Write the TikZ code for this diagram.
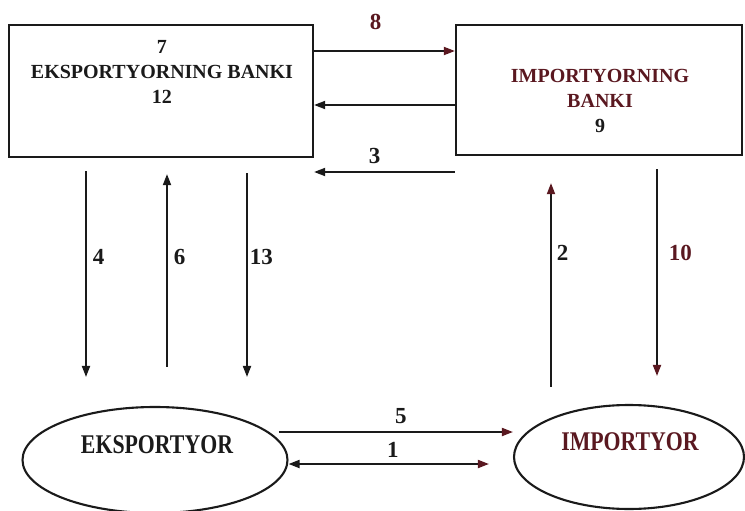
\documentclass[tikz,border=0pt]{standalone}
\usepackage{fontspec}
\setmainfont{Liberation Serif}
\usepackage{tikz}
\usetikzlibrary{arrows.meta,positioning,shapes.geometric}
\definecolor{bankInk}{HTML}{1A1A1A}
\definecolor{importRed}{HTML}{5A1820}
\tikzset{
  bankbox/.style={rectangle, draw=bankInk, line width=2.2pt, inner sep=0pt},
  party/.style={ellipse, draw=bankInk, line width=2.1pt, inner sep=0pt},
  boxtext/.style={align=center, text=bankInk, font=\fontsize{20}{25}\selectfont\bfseries},
  partytext/.style={text=bankInk, font=\fontsize{22.5}{26}\selectfont\bfseries},
  num/.style={text=bankInk, inner sep=1pt, font=\fontsize{23}{26}\selectfont\bfseries},
  arrow/.style={-{Triangle[length=11pt,width=8pt]}, line width=1.8pt, draw=bankInk},
  redarrow/.style={-{Triangle[length=11pt,width=8pt,color=importRed]}, line width=1.8pt, draw=bankInk},
  twoarrow/.style={{Triangle[length=11pt,width=8pt]}-{Triangle[length=11pt,width=8pt,color=importRed]}, line width=1.8pt, draw=bankInk}
}

\begin{document}
\begin{tikzpicture}[x=1pt,y=-1pt]
  \useasboundingbox (0,0) rectangle (745,511);

  \node[bankbox, minimum width=304pt, minimum height=132pt] (ebank) at (161,91) {};
  \node[bankbox, minimum width=286pt, minimum height=130pt] (ibank) at (599,90) {};
  \node[boxtext] (etext) at (162,72) {7\\EKSPORTYORNING BANKI\\12};
  \node[boxtext, text=importRed] (itext) at (600,101) {IMPORTYORNING\\BANKI\\\textcolor{bankInk}{9}};

  \node[party, minimum width=265pt, minimum height=106pt] (exp) at (155,460) {};
  \node[party, minimum width=230pt, minimum height=104pt] (imp) at (629,457) {};
  \node[partytext] (exptext) at (157,445) {\scalebox{0.97}[1.2]{EKSPORTYOR}};
  \node[partytext, text=importRed] (imptext) at (630,442) {\scalebox{0.97}[1.2]{IMPORTYOR}};

  % banks
  \draw[redarrow] (ebank.east |- 0,51) -- node[num, above=19pt, xshift=-9pt, text=importRed] {8} (ibank.west |- 0,51);
  \draw[arrow] (ibank.west |- 0,105) -- (ebank.east |- 0,105);
  \draw[arrow] (ibank.west |- 0,172) -- node[num, above=6pt, xshift=-10pt] {3} (ebank.east |- 0,172);

  % exporter side
  \draw[arrow, shorten <=13pt, shorten >=29pt] (ebank.south -| 86,0) -- node[num, right=5pt, pos=.4] {4} (exp.north -| 86,0);
  \draw[arrow, shorten <=39pt, shorten >=16pt] (exp.north -| 167,0) -- node[num, right=5pt, pos=.6] {6} (ebank.south -| 167,0);
  \draw[arrow, shorten <=15pt, shorten >=29pt] (ebank.south -| 247,0) -- node[num, right=1pt, pos=.4] {13} (exp.north -| 247,0);

  % importer side
  \draw[redarrow, shorten <=17pt, shorten >=27pt] (imp.north -| 551,0) -- node[num, right=4pt, pos=.61] {2} (ibank.south -| 551,0);
  \draw[redarrow, shorten <=13pt, shorten >=28pt] (ibank.south -| 657,0) -- node[num, right=10pt, pos=.39, text=importRed] {10} (imp.north -| 657,0);

  % parties
  \draw[redarrow, shorten <=-10pt] (exp.east |- 0,432) -- node[num, above=6pt] {5} (imp.west |- 0,432);
  \draw[twoarrow, shorten >=24pt] (exp.east |- 0,464) -- node[num, above=5pt, xshift=-8pt] {1} (imp.west |- 0,464);
\end{tikzpicture}
\end{document}
